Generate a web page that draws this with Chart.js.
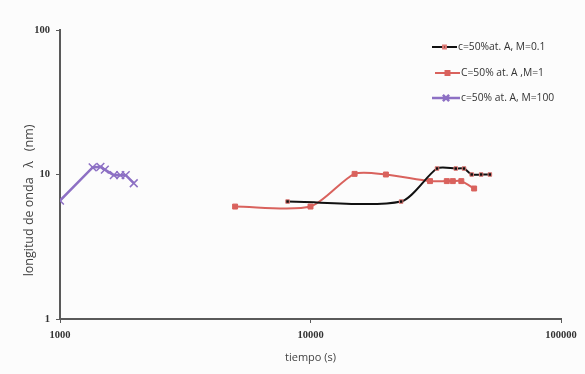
<!DOCTYPE html>
<html>
<head>
<meta charset="utf-8">
<script src="https://cdn.jsdelivr.net/npm/chart.js@4.4.1/dist/chart.umd.min.js"></script>
<style>
  html, body { margin: 0; padding: 0; background: #fcfcfc; }
  #wrap { width: 585px; height: 374px; }
</style>
</head>
<body>
<div id="wrap"><canvas id="myChart" width="585" height="374"></canvas></div>
<script>
// tiempo (s) y longitud de onda (nm) de cada serie
const tiempoM01 = [8100, 23000, 32000, 38000, 41000, 44000, 48000, 52000];
const lambdaM01 = [6.5, 6.5, 11, 11, 11, 10, 10, 10];

const tiempoM1 = [5000, 10000, 15000, 20000, 30000, 35000, 37000, 40000, 45000];
const lambdaM1 = [6, 6, 10.1, 10, 9, 9, 9, 9, 8];

const tiempoM100 = [1000, 1350, 1450, 1510, 1640, 1740, 1830, 1970];
const lambdaM100 = [6.6, 11.2, 11.3, 10.8, 9.9, 9.9, 9.9, 8.7];

const etiquetas = ['c=50%at. A, M=0.1', 'C=50% at. A ,M=1', 'c=50% at. A, M=100'];
const ticksX = [1000, 10000, 100000];
const ticksY = [1, 10, 100];

function puntos(xs, ys) {
  return xs.map((x, i) => ({ x: x, y: ys[i] }));
}

const colNegro = '#111111';
const colRojo = '#d9625d';
const colMorado = '#8d70c4';

// leyenda dibujada a mano en la esquina superior derecha
const leyenda = {
  id: 'leyenda',
  afterDraw(chart) {
    const ctx = chart.ctx;
    const filas = [
      { y: 47, x1: 432, x2: 457, tx: 458 },
      { y: 73, x1: 435, x2: 460, tx: 461 },
      { y: 98, x1: 432, x2: 460, tx: 461 }
    ];
    ctx.save();
    chart.data.datasets.forEach((ds, i) => {
      const f = filas[i];
      ctx.strokeStyle = ds.borderColor;
      ctx.lineWidth = ds.borderWidth;
      ctx.beginPath();
      ctx.moveTo(f.x1, f.y);
      ctx.lineTo(f.x2, f.y);
      ctx.stroke();
      ctx.fillStyle = ds.pointBackgroundColor;
      ctx.strokeStyle = ds.pointBorderColor;
      Chart.helpers.drawPoint(ctx, {
        pointStyle: ds.pointStyle,
        radius: ds.pointRadius * 0.8,
        rotation: 0,
        borderWidth: ds.pointBorderWidth
      }, (f.x1 + f.x2) / 2, f.y);
      ctx.fillStyle = '#333333';
      ctx.font = '10.3px "Open Sans"';
      ctx.textBaseline = 'middle';
      ctx.fillText(etiquetas[i], f.tx, f.y);
    });
    ctx.restore();
  }
};

const ctx = document.getElementById('myChart');

new Chart(ctx, {
  type: 'line',
  data: {
    datasets: [
      {
        label: etiquetas[0],
        data: puntos(tiempoM01, lambdaM01),
        borderColor: colNegro,
        borderWidth: 2,
        tension: 0.25,
        pointStyle: 'rect',
        pointRadius: 2.5,
        pointBackgroundColor: colNegro,
        pointBorderColor: '#e07a76',
        pointBorderWidth: 1
      },
      {
        label: etiquetas[1],
        data: puntos(tiempoM1, lambdaM1),
        borderColor: colRojo,
        borderWidth: 2,
        tension: 0.25,
        pointStyle: 'rect',
        pointRadius: 3.5,
        pointBackgroundColor: colRojo,
        pointBorderColor: colRojo,
        pointBorderWidth: 1
      },
      {
        label: etiquetas[2],
        data: puntos(tiempoM100, lambdaM100),
        borderColor: colMorado,
        borderWidth: 2.5,
        tension: 0,
        pointStyle: 'crossRot',
        pointRadius: 5.5,
        pointBackgroundColor: colMorado,
        pointBorderColor: colMorado,
        pointBorderWidth: 1.5
      }
    ]
  },
  options: {
    responsive: false,
    animation: false,
    layout: { padding: { top: 30, right: 24, left: 0, bottom: 0 } },
    plugins: {
      legend: { display: false },
      tooltip: { enabled: false }
    },
    scales: {
      x: {
        type: 'logarithmic',
        min: 1000,
        max: 100000,
        afterBuildTicks: s => { s.ticks = ticksX.map(v => ({ value: v })); },
        afterFit: s => { s.height = 55; },
        border: { color: '#5a5a5a', width: 2 },
        grid: { display: true, drawOnChartArea: false, drawTicks: true, tickLength: 4, color: '#5a5a5a' },
        ticks: {
          padding: 6,
          color: '#333333',
          font: { family: '"Liberation Serif"', size: 10.5, weight: 'bold' },
          maxRotation: 0,
          callback: v => String(v)
        },
        title: {
          display: true,
          text: 'tiempo (s)',
          color: '#444444',
          font: { family: '"Open Sans"', size: 11 },
          padding: { top: 0, bottom: 10 }
        }
      },
      y: {
        type: 'logarithmic',
        min: 1,
        max: 100,
        afterBuildTicks: s => { s.ticks = ticksY.map(v => ({ value: v })); },
        afterFit: s => { s.width = 60; },
        border: { color: '#5a5a5a', width: 2 },
        grid: { display: true, drawOnChartArea: false, drawTicks: true, tickLength: 4, color: '#5a5a5a' },
        ticks: {
          padding: 6,
          color: '#333333',
          font: { family: '"Liberation Serif"', size: 10.5, weight: 'bold' },
          callback: v => String(v)
        },
        title: {
          display: true,
          text: 'longitud de onda   λ   (nm)                ',
          color: '#444444',
          font: { family: '"Open Sans"', size: 12.5 },
          padding: { top: 22, bottom: 0 }
        }
      }
    }
  },
  plugins: [leyenda]
});
</script>
</body>
</html>
